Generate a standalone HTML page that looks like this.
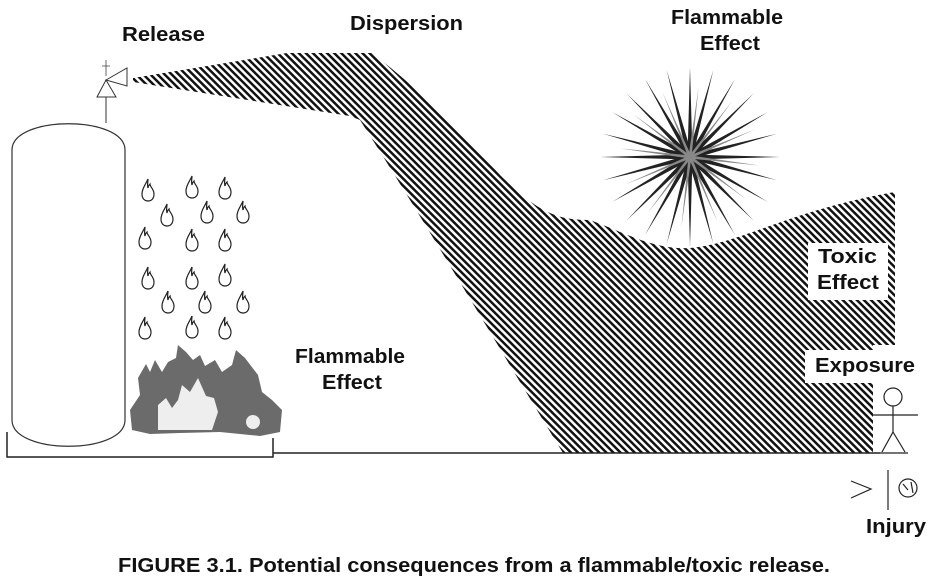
<!DOCTYPE html>
<html><head><style>
html,body{margin:0;padding:0;background:#fff;width:936px;height:583px;overflow:hidden}
svg{display:block}
text{font-family:"Liberation Sans",Arial,sans-serif;font-weight:bold;fill:#111}
</style></head><body>
<svg width="936" height="583" viewBox="0 0 936 583" xmlns="http://www.w3.org/2000/svg">
<defs>
<pattern id="h" width="5" height="5" patternUnits="userSpaceOnUse" patternTransform="rotate(45)">
<rect width="5" height="2.5" fill="#111"/>
</pattern>
<path id="sp" d="M0,-2.5 L90,0 L0,2.5z" fill="#222"/>
<path id="sp2" d="M0,-1.5 L70,0 L0,1.5z" fill="#888"/>
<path id="dr" d="M0,-11 C-2,-6 -6,-2 -6,4 C-6,9 -3,11 0,11 C4,11 6,8 6,4 C6,-1 2,-3 2,-6 C1,-5 0,-4 0,-2 C-1,-5 0,-8 0,-11z" fill="none" stroke="#222" stroke-width="1.2"/>
</defs>
<!-- plume -->
<path d="M133,78 L287,53 L372,53 C420,90 460,130 500,175 C540,215 560,220 590,220 C630,235 655,250 690,248 C740,244 790,210 895,192 L895,345 L873,345 L873,453 L563,453 C500,350 430,230 360,120 L350,116 L133,82 Z" fill="url(#h)"/>
<rect x="808" y="243" width="80" height="57" fill="#fff"/>
<rect x="805" y="350" width="112" height="33" fill="#fff"/>
<!-- ground -->
<path d="M7,432 V457 H273 V438 M273,453 H880" fill="none" stroke="#222" stroke-width="1.5"/>
<!-- tank -->
<path d="M12,150 C12,115 125,115 125,150 V420 C125,455 12,455 12,420 Z" fill="#fff" stroke="#333" stroke-width="1.2"/>
<path d="M106,123 V97" stroke="#333"/>
<path d="M97,97 L106,80 L116,97 Z M106,80 L127,68 L127,86 Z" fill="#fff" stroke="#333"/>
<path d="M106,60 V76 M102,66 L110,66" stroke="#444" stroke-width="0.8"/>
<!-- droplets -->
<g>
<use href="#dr" x="148" y="190"/><use href="#dr" x="192" y="187"/><use href="#dr" x="225" y="188"/>
<use href="#dr" x="167" y="215"/><use href="#dr" x="207" y="212"/><use href="#dr" x="243" y="212"/>
<use href="#dr" x="145" y="238"/><use href="#dr" x="192" y="240"/><use href="#dr" x="225" y="240"/>
<use href="#dr" x="148" y="278"/><use href="#dr" x="192" y="278"/><use href="#dr" x="225" y="275"/>
<use href="#dr" x="168" y="302"/><use href="#dr" x="205" y="302"/><use href="#dr" x="243" y="302"/>
<use href="#dr" x="145" y="328"/><use href="#dr" x="192" y="327"/><use href="#dr" x="225" y="328"/>
</g>
<!-- fire -->
<path d="M132,430 L130,410 L140,395 L138,378 L146,364 L150,372 L155,360 L162,372 L168,362 L176,358 L178,345 L186,352 L193,360 L200,355 L205,366 L215,360 L222,372 L232,365 L236,350 L245,358 L258,375 L262,392 L272,400 L282,410 L280,432 L260,436 L220,432 L180,433 L150,434 Z" fill="#6b6b6b"/>
<path d="M158,430 L158,405 L166,398 L172,408 L178,400 L182,385 L190,392 L198,378 L206,396 L214,398 L218,412 L212,430 Z" fill="#eee"/>
<circle cx="253" cy="422" r="7" fill="#eee"/>
<!-- starburst -->
<g transform="translate(690,157)">
<use href="#sp" transform="rotate(0)"/><use href="#sp" transform="rotate(15)"/><use href="#sp" transform="rotate(30)"/><use href="#sp" transform="rotate(45)"/><use href="#sp" transform="rotate(60)"/><use href="#sp" transform="rotate(75)"/><use href="#sp" transform="rotate(90)"/><use href="#sp" transform="rotate(105)"/><use href="#sp" transform="rotate(120)"/><use href="#sp" transform="rotate(135)"/><use href="#sp" transform="rotate(150)"/><use href="#sp" transform="rotate(165)"/><use href="#sp" transform="rotate(180)"/><use href="#sp" transform="rotate(195)"/><use href="#sp" transform="rotate(210)"/><use href="#sp" transform="rotate(225)"/><use href="#sp" transform="rotate(240)"/><use href="#sp" transform="rotate(255)"/><use href="#sp" transform="rotate(270)"/><use href="#sp" transform="rotate(285)"/><use href="#sp" transform="rotate(300)"/><use href="#sp" transform="rotate(315)"/><use href="#sp" transform="rotate(330)"/><use href="#sp" transform="rotate(345)"/>
<use href="#sp2" transform="rotate(7)"/><use href="#sp2" transform="rotate(37)"/><use href="#sp2" transform="rotate(67)"/><use href="#sp2" transform="rotate(97)"/><use href="#sp2" transform="rotate(127)"/><use href="#sp2" transform="rotate(157)"/><use href="#sp2" transform="rotate(187)"/><use href="#sp2" transform="rotate(217)"/><use href="#sp2" transform="rotate(247)"/><use href="#sp2" transform="rotate(277)"/><use href="#sp2" transform="rotate(307)"/><use href="#sp2" transform="rotate(337)"/>
</g>
<!-- stick figure -->
<g fill="none" stroke="#222" stroke-width="1.2">
<circle cx="893" cy="397" r="9" fill="#fff"/>
<path d="M873,415 H918 M893,406 V432 L882,452 M893,432 L905,452 M880,453 H908"/>
<path d="M851,481 L871,489 L851,498 M888,470 V510"/>
<circle cx="908" cy="488" r="9"/>
<path d="M903,484 L908,490 M911,482 L913,493"/>
</g>
<!-- labels -->
<text x="122" y="41" font-size="20" textLength="83" lengthAdjust="spacingAndGlyphs">Release</text>
<text x="350" y="30" font-size="20" textLength="113" lengthAdjust="spacingAndGlyphs">Dispersion</text>
<text x="671" y="24" font-size="20" textLength="112" lengthAdjust="spacingAndGlyphs">Flammable</text>
<text x="700" y="50" font-size="20" textLength="60" lengthAdjust="spacingAndGlyphs">Effect</text>
<text x="818" y="263" font-size="20" textLength="59" lengthAdjust="spacingAndGlyphs">Toxic</text>
<text x="817" y="289" font-size="20" textLength="62" lengthAdjust="spacingAndGlyphs">Effect</text>
<text x="815" y="372" font-size="20" textLength="100" lengthAdjust="spacingAndGlyphs">Exposure</text>
<text x="295" y="363" font-size="20" textLength="110" lengthAdjust="spacingAndGlyphs">Flammable</text>
<text x="322" y="389" font-size="20" textLength="60" lengthAdjust="spacingAndGlyphs">Effect</text>
<text x="866" y="533" font-size="20" font-weight="normal" textLength="60" lengthAdjust="spacingAndGlyphs">Injury</text>
<text x="118" y="572" font-size="20" textLength="712" lengthAdjust="spacingAndGlyphs">FIGURE 3.1.  Potential consequences from a flammable/toxic release.</text>
</svg>
</body></html>
